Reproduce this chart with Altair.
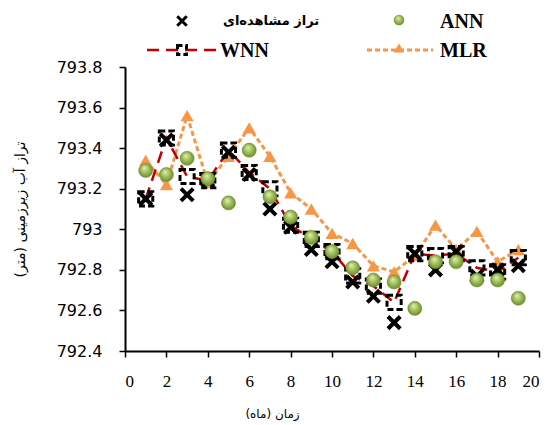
import altair as alt
import pandas as pd

months = list(range(1, 20))
observed = [793.15, 793.44, 793.17, 793.24, 793.38, 793.27, 793.10, 793.01, 792.90, 792.84,
            792.74, 792.67, 792.54, 792.88, 792.80, 792.89, 792.77, 792.80, 792.82]
wnn = [793.15, 793.45, 793.26, 793.24, 793.39, 793.28, 793.20, 793.02, 792.95, 792.89,
       792.77, 792.72, 792.64, 792.88, 792.87, 792.88, 792.81, 792.79, 792.86]
ann = [793.29, 793.27, 793.35, 793.25, 793.13, 793.39, 793.16, 793.06, 792.96, 792.89,
       792.81, 792.75, 792.74, 792.61, 792.84, 792.84, 792.75, 792.75, 792.66]
mlr = [793.34, 793.22, 793.56, 793.23, 793.36, 793.50, 793.36, 793.18, 793.10, 792.98,
       792.93, 792.82, 792.79, 792.87, 793.02, 792.90, 792.99, 792.84, 792.90]

x_ticks = list(range(0, 21, 2))
y_ticks = [792.4, 792.6, 792.8, 793.0, 793.2, 793.4, 793.6, 793.8]

label_obs = "تراز مشاهده‌ای"
label_ann = "ANN"
label_wnn = "WNN"
label_mlr = "MLR"
x_title = "زمان (ماه)"
y_title = "تراز آب زیرزمینی (متر)"

df = pd.DataFrame({"month": months, "obs": observed, "wnn": wnn, "ann": ann, "mlr": mlr})

W, H = 414, 284
base = alt.Chart(df)

xenc = alt.X("month:Q",
             scale=alt.Scale(domain=[0, 20], nice=False, zero=False),
             axis=alt.Axis(values=x_ticks, grid=False, domainColor="black", domainWidth=2,
                           tickColor="black", tickWidth=1.5, tickSize=6, labelPadding=16,
                           labelFont="Liberation Serif", labelFontSize=17, labelColor="black",
                           title=x_title, titleFont="DejaVu Sans", titleFontSize=12,
                           titleFontWeight="normal", titleColor="black",
                           titleX=147, titleY=62, titleAlign="center", titleBaseline="middle"))


def yenc(field):
    return alt.Y(f"{field}:Q",
                 scale=alt.Scale(domain=[792.4, 793.8], nice=False, zero=False),
                 axis=alt.Axis(values=y_ticks, grid=False, domainColor="black", domainWidth=2,
                               tickColor="black", tickWidth=1.5, tickSize=6, labelPadding=17,
                               labelExpr="format(datum.value, '.1~f')",
                               labelFont="DejaVu Sans", labelFontSize=16, labelColor="black",
                               title=y_title, titleFont="DejaVu Sans", titleFontSize=14,
                               titleFontWeight="normal", titleColor="black",
                               titleX=-105, titleY=142, titleAngle=-90,
                               titleAlign="center", titleBaseline="middle"))


ORANGE = "#f79646"
RED = "#c00000"
ball = alt.Gradient(gradient="radial", x1=0.4, y1=0.3, r1=0.0, x2=0.5, y2=0.5, r2=0.6,
                    stops=[alt.GradientStop(color="#e4f2b0", offset=0),
                           alt.GradientStop(color="#9bbb59", offset=0.5),
                           alt.GradientStop(color="#5f7d22", offset=1)])
XSHAPE = "M-1,-1L1,1M-1,1L1,-1"

mlr_line = base.mark_line(color=ORANGE, strokeWidth=3, strokeDash=[5, 3]).encode(x=xenc, y=yenc("mlr"))
mlr_pts = base.mark_point(shape="triangle-up", filled=True, color=ORANGE, size=170, opacity=1).encode(x=xenc, y=yenc("mlr"))
wnn_line = base.mark_line(color=RED, strokeWidth=2.5, strokeDash=[12, 7]).encode(x=xenc, y=yenc("wnn"))
wnn_pts = base.mark_point(shape="square", filled=False, stroke="black", strokeWidth=3,
                          strokeDash=[6, 3], size=200, opacity=1).encode(x=xenc, y=yenc("wnn"))
obs_pts = base.mark_point(shape=XSHAPE, filled=False, stroke="black", strokeWidth=4,
                          size=150, opacity=1).encode(x=xenc, y=yenc("obs"))
ann_pts = base.mark_point(shape="circle", filled=True, fill=ball, stroke="#6b8a2a", strokeWidth=0.5,
                          size=200, opacity=1).encode(x=xenc, y=yenc("ann"))

one = alt.Data(values=[{"k": 0}])
R1, R2 = -46, -17
leg = [
    alt.Chart(one).mark_point(shape=XSHAPE, filled=False, stroke="black", strokeWidth=3, size=90, opacity=1)
        .encode(x=alt.value(57), y=alt.value(R1)),
    alt.Chart(one).mark_text(text=label_obs, font="DejaVu Sans", fontSize=13, fontWeight="bold",
                             align="left", baseline="middle", color="black")
        .encode(x=alt.value(98), y=alt.value(R1)),
    alt.Chart(one).mark_point(shape="circle", filled=True, fill=ball, size=110, opacity=1)
        .encode(x=alt.value(274), y=alt.value(R1 - 1)),
    alt.Chart(one).mark_text(text=label_ann, font="Liberation Serif", fontSize=20, fontWeight="bold",
                             align="left", baseline="middle", color="black")
        .encode(x=alt.value(315), y=alt.value(R1 + 1)),
    alt.Chart(one).mark_rule(color=RED, strokeWidth=2.5, strokeDash=[12, 7])
        .encode(x=alt.value(22), x2=alt.value(92), y=alt.value(R2)),
    alt.Chart(one).mark_point(shape="square", filled=False, stroke="black", strokeWidth=3,
                              strokeDash=[5, 3], size=80, opacity=1)
        .encode(x=alt.value(57), y=alt.value(R2)),
    alt.Chart(one).mark_text(text=label_wnn, font="Liberation Serif", fontSize=20, fontWeight="bold",
                             align="left", baseline="middle", color="black")
        .encode(x=alt.value(95), y=alt.value(R2 + 1)),
    alt.Chart(one).mark_rule(color=ORANGE, strokeWidth=3, strokeDash=[5, 3])
        .encode(x=alt.value(242), x2=alt.value(308), y=alt.value(R2)),
    alt.Chart(one).mark_point(shape="triangle-up", filled=True, color=ORANGE, size=110, opacity=1)
        .encode(x=alt.value(274), y=alt.value(R2 - 2)),
    alt.Chart(one).mark_text(text=label_mlr, font="Liberation Serif", fontSize=20, fontWeight="bold",
                             align="left", baseline="middle", color="black")
        .encode(x=alt.value(315), y=alt.value(R2 + 1)),
]

chart = alt.layer(mlr_line, mlr_pts, wnn_line, wnn_pts, obs_pts, ann_pts, *leg).properties(
    width=W, height=H,
    autosize=alt.AutoSizeParams(type="none"),
    padding={"left": 117, "top": 59, "right": 8, "bottom": 70},
    background="white",
).configure_view(stroke=None)

chart.save("out.html", embed_options={"renderer": "svg", "actions": False})
